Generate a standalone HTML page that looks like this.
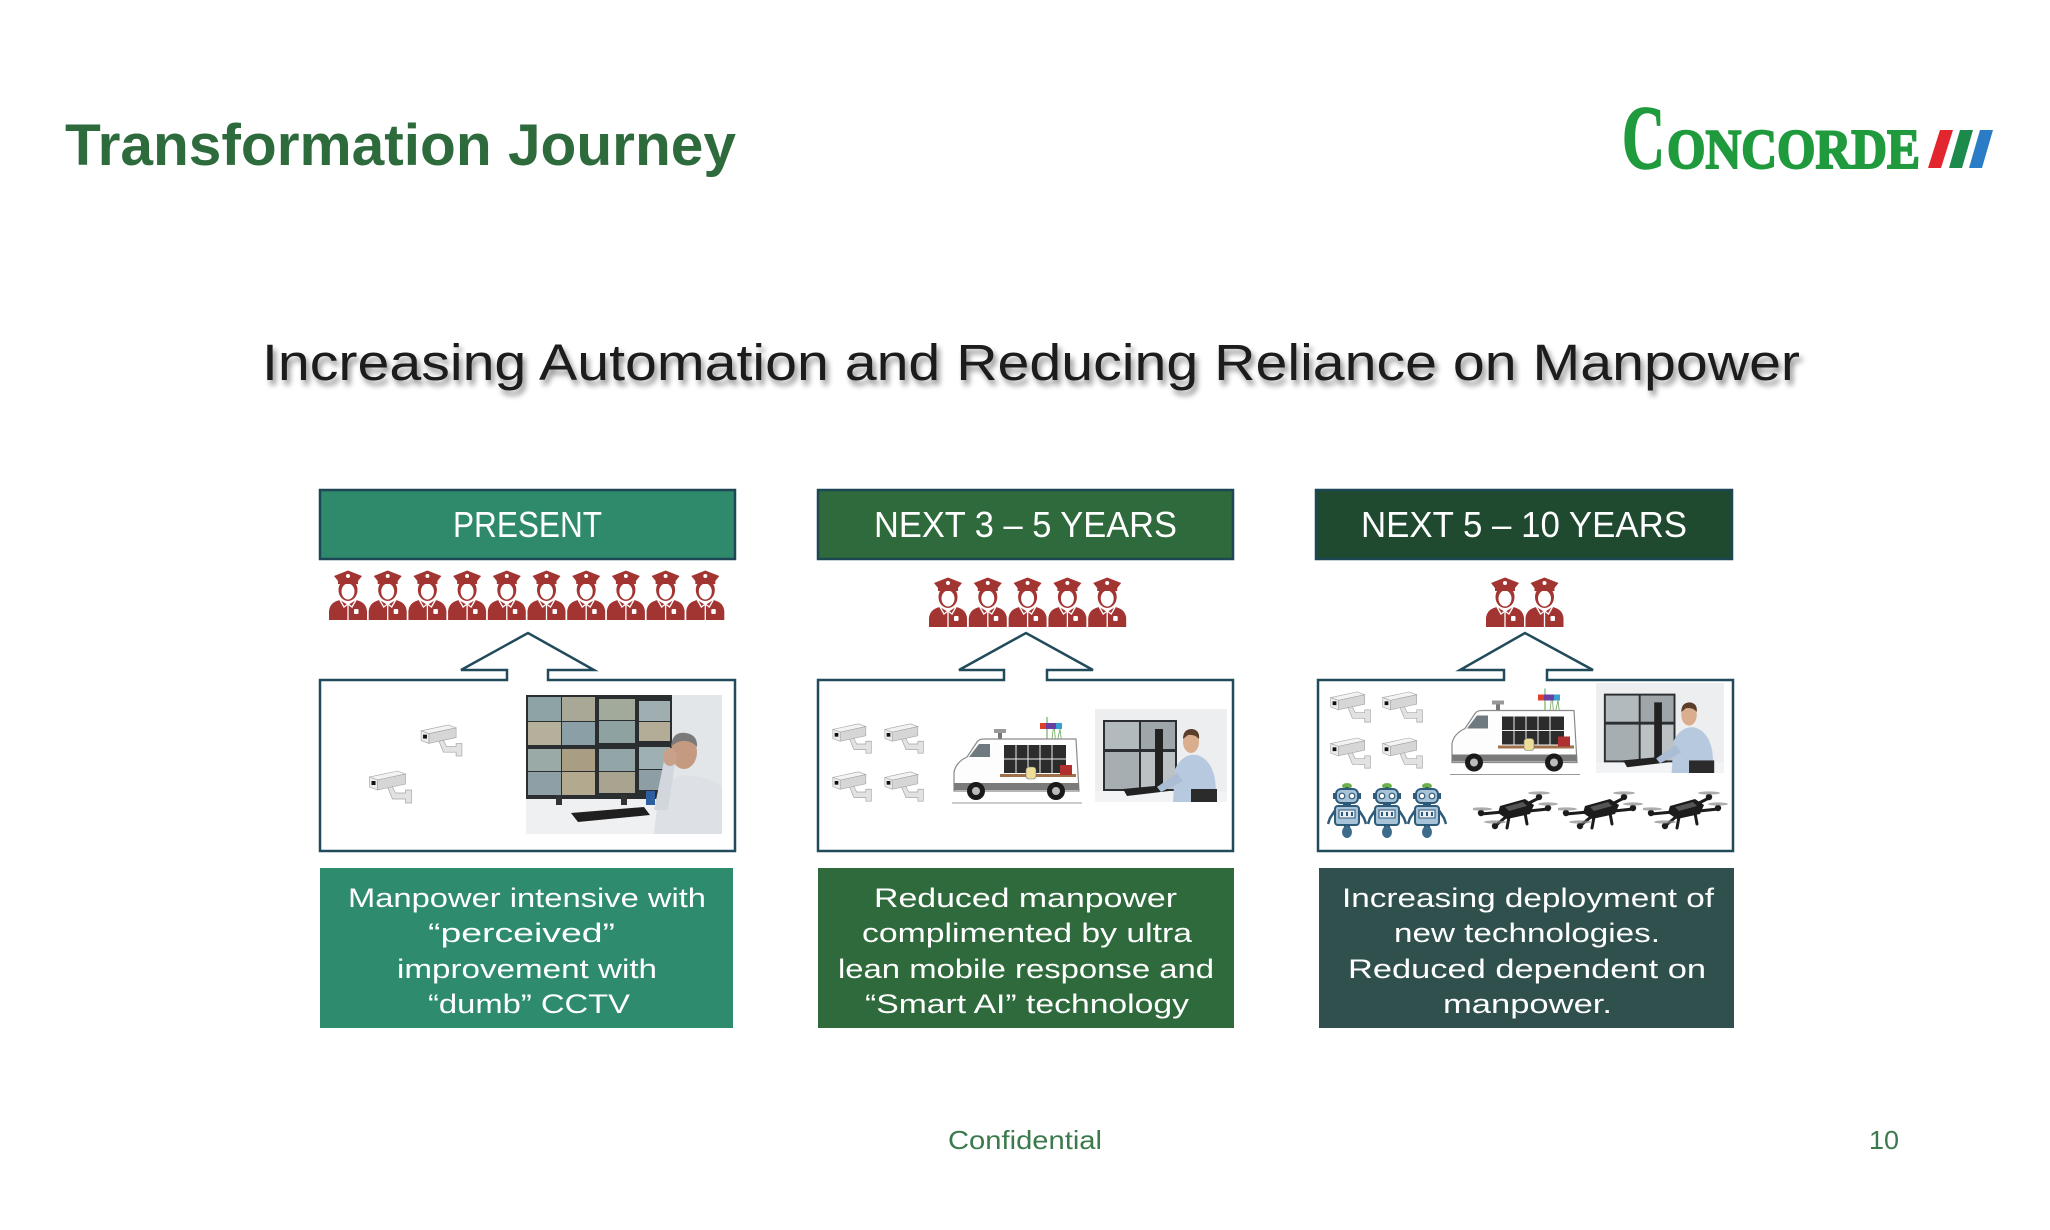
<!DOCTYPE html>
<html><head><meta charset="utf-8"><style>
html,body{margin:0;padding:0;background:#fff;}
svg{display:block;}
text{font-family:"Liberation Sans",sans-serif;}
</style></head><body>
<svg width="2050" height="1230" viewBox="0 0 2050 1230" xmlns="http://www.w3.org/2000/svg">
<defs>
  <filter id="sh" x="-5%" y="-50%" width="110%" height="200%">
    <feGaussianBlur in="SourceAlpha" stdDeviation="3"/>
    <feOffset dx="3" dy="5" result="o"/>
    <feComponentTransfer><feFuncA type="linear" slope="0.45"/></feComponentTransfer>
    <feMerge><feMergeNode/><feMergeNode in="SourceGraphic"/></feMerge>
  </filter>
  <symbol id="g" viewBox="0 0 40 50">
    <path d="M1,50 L1,41 Q2,32 12,30 L20,35 L28,30 Q38,32 39,41 L39,50 Z" fill="#a23532"/>
    <ellipse cx="20" cy="20" rx="9.5" ry="11" fill="#a23532"/>
    <ellipse cx="20" cy="21.5" rx="6.5" ry="8" fill="#fff"/>
    <path d="M6,6 L20,0.5 L34,6 L30,11 L10,11 Z" fill="#a23532"/>
    <rect x="10" y="10.5" width="20" height="3.5" fill="#a23532"/>
    <circle cx="20" cy="6" r="2" fill="#fff"/>
    <path d="M12,30 L16,37 L20,34 L24,37 L28,30" fill="none" stroke="#fff" stroke-width="1.3"/>
    <line x1="20" y1="35" x2="20" y2="50" stroke="#fff" stroke-width="1.3"/>
    <rect x="26" y="39" width="4.5" height="5" rx="1" fill="#fff"/>
  </symbol>
  <symbol id="cam" viewBox="0 0 48 36">
    <path d="M24,16 L28,24 L38,24 L38,21 L44,21 L44,34 L38,34 L38,30 L25,30 L20,18 Z" fill="#e2e2e2" stroke="#a5a5a5" stroke-width="0.7"/>
    <polygon points="2,8 30,2 38,5 10,11" fill="#f3f3f3" stroke="#a0a0a0" stroke-width="0.6"/>
    <polygon points="10,11 38,5 38,15 10,21" fill="#d6d6d6" stroke="#a0a0a0" stroke-width="0.6"/>
    <polygon points="2,8 10,11 10,21 2,18" fill="#ececec" stroke="#a0a0a0" stroke-width="0.6"/>
    <rect x="4" y="12" width="4" height="4" fill="#111"/>
  </symbol>
  <symbol id="van" viewBox="0 0 130 88">
    <line x1="0" y1="86" x2="130" y2="86" stroke="#999" stroke-width="1"/>
    <line x1="95" y1="22" x2="95" y2="0" stroke="#5aa04a" stroke-width="1"/>
    <polyline points="100,22 102,6 104,30 108,12 110,28" fill="none" stroke="#6aa85a" stroke-width="0.8"/>
    <rect x="88" y="6" width="22" height="6" fill="#6b3fa0"/>
    <rect x="88" y="6" width="6" height="6" fill="#e0402a"/>
    <rect x="104" y="6" width="6" height="6" fill="#38a0d0"/>
    <rect x="42" y="12" width="12" height="4" fill="#999"/>
    <rect x="46" y="16" width="4" height="6" fill="#777"/>
    <path d="M2,74 L2,55 Q4,45 15,40 L25,25 Q27,22 32,22 L124,22 L127,74 Z" fill="#fdfdfd" stroke="#8a8a8a" stroke-width="1.2"/>
    <path d="M17,40 L27,27 L38,27 L38,40 Z" fill="#6f7a80"/>
    <rect x="52" y="28" width="62" height="28" fill="#2c2c2c"/>
    <g stroke="#eee" stroke-width="1"><line x1="64" y1="28" x2="64" y2="56"/><line x1="76" y1="28" x2="76" y2="56"/><line x1="88" y1="28" x2="88" y2="56"/><line x1="100" y1="28" x2="100" y2="56"/><line x1="52" y1="42" x2="114" y2="42"/></g>
    <rect x="48" y="57" width="76" height="3" fill="#a0704a"/>
    <rect x="74" y="50" width="10" height="12" rx="3" fill="#eedd99" stroke="#777" stroke-width="0.6"/>
    <rect x="108" y="48" width="12" height="10" fill="#b03030"/>
    <rect x="2" y="66" width="125" height="7" fill="#7a7a7a"/>
    <circle cx="24" cy="74" r="9" fill="#1a1a1a"/><circle cx="24" cy="74" r="4" fill="#bbb"/>
    <circle cx="104" cy="74" r="9" fill="#1a1a1a"/><circle cx="104" cy="74" r="4" fill="#bbb"/>
  </symbol>
  <symbol id="ph2" viewBox="0 0 132 93">
    <rect width="132" height="93" fill="#eceef0"/>
    <rect x="8" y="11" width="74" height="72" fill="#2b2f33"/>
    <rect x="10" y="13" width="34" height="27" fill="#b3babd"/>
    <rect x="46" y="13" width="34" height="27" fill="#9ea6a9"/>
    <rect x="10" y="43" width="34" height="37" fill="#a7aeb1"/>
    <rect x="46" y="43" width="34" height="37" fill="#bcc2c4"/>
    <rect x="60" y="20" width="8" height="60" fill="#222"/>
    <rect x="0" y="82" width="132" height="11" fill="#f2f3f4"/>
    <polygon points="28,80 70,76 74,82 32,87" fill="#222"/>
    <path d="M78,93 L80,60 Q88,44 102,46 Q116,50 120,70 L122,93 Z" fill="#b7c9de"/>
    <polygon points="82,64 62,78 66,83 88,72" fill="#aabdd4"/>
    <rect x="96" y="80" width="26" height="13" fill="#2b2b2b"/>
    <ellipse cx="96" cy="33" rx="8" ry="11" fill="#d9ad8e"/>
    <path d="M88,30 Q88,20 97,20 Q105,21 104,30 Q100,25 93,26 Z" fill="#5a3d2b"/>
  </symbol>
  <symbol id="rob" viewBox="0 0 40 56">
    <ellipse cx="20" cy="4" rx="5" ry="3" fill="#6cb04a"/>
    <rect x="18.5" y="5" width="3" height="3" fill="#2f5b7a"/>
    <rect x="9" y="7" width="22" height="14" rx="5" fill="#a8c3d8" stroke="#2f5b7a" stroke-width="2"/>
    <circle cx="15" cy="14" r="2.8" fill="#fff" stroke="#2f5b7a" stroke-width="1.2"/>
    <circle cx="25" cy="14" r="2.8" fill="#fff" stroke="#2f5b7a" stroke-width="1.2"/>
    <rect x="6" y="11" width="3" height="6" fill="#2f5b7a"/><rect x="31" y="11" width="3" height="6" fill="#2f5b7a"/>
    <rect x="16" y="21" width="8" height="3" fill="#2f5b7a"/>
    <path d="M9,27 L3,36 L1,42 M31,27 L37,36 L39,42" fill="none" stroke="#2f5b7a" stroke-width="2.5"/>
    <rect x="8" y="24" width="24" height="19" rx="3" fill="#a8c3d8" stroke="#2f5b7a" stroke-width="2"/>
    <rect x="12" y="28" width="16" height="8" fill="#e8eef3" stroke="#2f5b7a" stroke-width="1"/>
    <g fill="#2f5b7a"><rect x="14" y="30" width="2" height="4"/><rect x="19" y="30" width="2" height="4"/><rect x="24" y="30" width="2" height="4"/></g>
    <rect x="17" y="43" width="6" height="3" fill="#2f5b7a"/>
    <ellipse cx="20" cy="50" rx="5" ry="6" fill="#3d6b8a"/>
  </symbol>
  <symbol id="dr" viewBox="0 0 85 44">
    <g stroke="#1c1c1c" stroke-width="3" stroke-linecap="round">
      <line x1="30" y1="24" x2="8" y2="26"/><line x1="34" y1="28" x2="22" y2="38"/>
      <line x1="54" y1="16" x2="66" y2="10"/><line x1="56" y1="23" x2="75" y2="21"/>
      <line x1="36" y1="29" x2="34" y2="40"/><line x1="52" y1="25" x2="54" y2="36"/>
    </g>
    <path d="M27,18 L52,11 L61,17 L57,26 L34,31 L25,25 Z" fill="#1c1c1c"/>
    <path d="M32,19 L50,14 L54,18 L36,23 Z" fill="#555"/>
    <g fill="#1c1c1c"><circle cx="8" cy="25" r="3.2"/><circle cx="22" cy="38" r="3.2"/><circle cx="66" cy="9" r="3.2"/><circle cx="75" cy="20" r="3.2"/></g>
    <g fill="#8a8a8a" opacity="0.7"><ellipse cx="8" cy="21" rx="11" ry="1.6"/><ellipse cx="22" cy="34" rx="11" ry="1.6"/><ellipse cx="66" cy="5" rx="11" ry="1.6"/><ellipse cx="75" cy="16" rx="10" ry="1.6"/></g>
  </symbol>
</defs>

<rect width="2050" height="1230" fill="#fff"/>

<!-- Title -->
<text x="65" y="165" font-size="58" font-weight="bold" fill="#2e6b3c" textLength="671" lengthAdjust="spacingAndGlyphs">Transformation Journey</text>

<!-- Logo -->
<text x="1622" y="168" font-size="91" font-weight="bold" fill="#1f9a3d" stroke="#1f9a3d" stroke-width="1.5" textLength="43" lengthAdjust="spacingAndGlyphs" style="font-family:'Liberation Serif',serif">C</text>
<text x="1667" y="168" font-size="56" font-weight="bold" fill="#1f9a3d" stroke="#1f9a3d" stroke-width="2" textLength="253" lengthAdjust="spacingAndGlyphs" style="font-family:'Liberation Serif',serif">ONCORDE</text>
<polygon points="1928,168 1941,168 1953,130 1940,130" fill="#e3262d"/>
<polygon points="1949,168 1962,168 1973,130 1960,130" fill="#1b8a4b"/>
<polygon points="1969,168 1982,168 1993,130 1980,130" fill="#2b7cc7"/>

<!-- Subtitle -->
<text x="262" y="380" font-size="51" fill="#1a1a1a" textLength="1538" lengthAdjust="spacingAndGlyphs" filter="url(#sh)">Increasing Automation and Reducing Reliance on Manpower</text>

<!-- Headers -->
<rect x="320" y="490" width="415" height="69" fill="#2f8a6c" stroke="#1e4755" stroke-width="2.5"/>
<rect x="818" y="490" width="415" height="69" fill="#2e6a3c" stroke="#1e4755" stroke-width="2.5"/>
<rect x="1316" y="490" width="416" height="69" fill="#1f4a30" stroke="#1e4755" stroke-width="2.5"/>
<text x="453" y="537" font-size="36" fill="#fff" textLength="149" lengthAdjust="spacingAndGlyphs">PRESENT</text>
<text x="874" y="537" font-size="36" fill="#fff" textLength="303" lengthAdjust="spacingAndGlyphs">NEXT 3 – 5 YEARS</text>
<text x="1361" y="537" font-size="36" fill="#fff" textLength="326" lengthAdjust="spacingAndGlyphs">NEXT 5 – 10 YEARS</text>

<!-- Guards -->
<use href="#g" x="328" y="570" width="40" height="50"/>
<use href="#g" x="367.7" y="570" width="40" height="50"/>
<use href="#g" x="407.4" y="570" width="40" height="50"/>
<use href="#g" x="447.1" y="570" width="40" height="50"/>
<use href="#g" x="486.8" y="570" width="40" height="50"/>
<use href="#g" x="526.5" y="570" width="40" height="50"/>
<use href="#g" x="566.2" y="570" width="40" height="50"/>
<use href="#g" x="605.9" y="570" width="40" height="50"/>
<use href="#g" x="645.6" y="570" width="40" height="50"/>
<use href="#g" x="685.3" y="570" width="40" height="50"/>

<use href="#g" x="928" y="577" width="40" height="50"/>
<use href="#g" x="967.8" y="577" width="40" height="50"/>
<use href="#g" x="1007.6" y="577" width="40" height="50"/>
<use href="#g" x="1047.4" y="577" width="40" height="50"/>
<use href="#g" x="1087.2" y="577" width="40" height="50"/>

<use href="#g" x="1485" y="577" width="40" height="50"/>
<use href="#g" x="1524.5" y="577" width="40" height="50"/>

<!-- Boxes with arrows -->
<path d="M507,680 L320,680 L320,851 L735,851 L735,680 L548,680 L548,670 L594,670 L528,633 L461,670 L507,670 Z" fill="#fff" stroke="#214b5a" stroke-width="2.5" stroke-linejoin="miter"/>
<path d="M1004,680 L818,680 L818,851 L1233,851 L1233,680 L1047,680 L1047,670 L1093,670 L1026,633 L959,670 L1004,670 Z" fill="#fff" stroke="#214b5a" stroke-width="2.5"/>
<path d="M1504,680 L1318,680 L1318,851 L1733,851 L1733,680 L1547,680 L1547,670 L1593,670 L1525,633 L1460,670 L1504,670 Z" fill="#fff" stroke="#214b5a" stroke-width="2.5"/>

<!-- Column 1 content -->
<use href="#cam" x="418" y="723" width="49" height="35"/>
<use href="#cam" x="367" y="769" width="49" height="36"/>
<g transform="translate(526,695)">
  <rect width="196" height="139" fill="#e3e6e9"/>
  <rect x="0" y="0" width="146" height="104" fill="#2a2e31"/>
  <rect x="2" y="2" width="33" height="24" fill="#8ea3a5"/>
  <rect x="36" y="2" width="33" height="24" fill="#a9a796"/>
  <rect x="2" y="27" width="33" height="23" fill="#b5b09c"/>
  <rect x="36" y="27" width="33" height="23" fill="#8a9fa6"/>
  <rect x="73" y="4" width="36" height="21" fill="#a2aa9c"/>
  <rect x="73" y="26" width="36" height="22" fill="#8fa2a2"/>
  <rect x="113" y="6" width="31" height="20" fill="#9faeb0"/>
  <rect x="113" y="27" width="31" height="19" fill="#b3ad98"/>
  <rect x="2" y="54" width="33" height="22" fill="#9aaaa6"/>
  <rect x="36" y="54" width="33" height="22" fill="#a99e84"/>
  <rect x="2" y="77" width="33" height="23" fill="#8ea0a6"/>
  <rect x="36" y="77" width="33" height="23" fill="#b2a98f"/>
  <rect x="73" y="54" width="36" height="22" fill="#92a5a7"/>
  <rect x="73" y="77" width="36" height="21" fill="#a8a48f"/>
  <rect x="113" y="52" width="31" height="22" fill="#9fb0b2"/>
  <rect x="113" y="75" width="31" height="20" fill="#8d9ea4"/>
  <rect x="0" y="104" width="196" height="35" fill="#eff0f1"/>
  <rect x="30" y="100" width="6" height="10" fill="#333"/>
  <rect x="95" y="100" width="6" height="10" fill="#333"/>
  <polygon points="45,118 118,112 124,120 52,127" fill="#1f1f1f"/>
  <rect x="120" y="96" width="9" height="14" fill="#2d5fa0"/>
  <path d="M128,139 L132,104 Q138,82 160,80 Q185,82 196,92 L196,139 Z" fill="#dde1e6"/>
  <polygon points="128,115 138,66 149,68 142,115" fill="#d2d7de"/>
  <ellipse cx="158" cy="57" rx="13" ry="17" fill="#c49a80"/>
  <path d="M145,52 Q146,36 160,38 Q172,40 171,52 Q165,45 156,46 Q149,47 145,52 Z" fill="#7a7a7a"/>
  <ellipse cx="144" cy="62" rx="7" ry="9" fill="#c9a089"/>
</g>

<!-- Column 2 content -->
<use href="#cam" x="830" y="722" width="46" height="33"/>
<use href="#cam" x="882" y="722" width="46" height="33"/>
<use href="#cam" x="830" y="770" width="46" height="33"/>
<use href="#cam" x="882" y="770" width="46" height="33"/>
<use href="#van" x="952" y="717" width="130" height="88"/>
<use href="#ph2" x="1095" y="709" width="132" height="93"/>

<!-- Column 3 content -->
<use href="#cam" x="1328" y="690" width="47" height="34"/>
<use href="#cam" x="1380" y="690" width="47" height="34"/>
<use href="#cam" x="1328" y="736" width="47" height="34"/>
<use href="#cam" x="1380" y="736" width="47" height="34"/>
<use href="#van" x="1450" y="688" width="130" height="89"/>
<use href="#ph2" x="1595" y="683" width="130" height="90"/>
<use href="#rob" x="1327" y="782" width="40" height="56"/>
<use href="#rob" x="1367" y="782" width="40" height="56"/>
<use href="#rob" x="1407" y="782" width="40" height="56"/>
<use href="#dr" x="1473" y="788" width="85" height="44"/>
<use href="#dr" x="1558" y="788" width="85" height="44"/>
<use href="#dr" x="1643" y="788" width="85" height="44"/>

<!-- Text boxes -->
<rect x="320" y="868" width="413" height="160" fill="#2e8b6e"/>
<rect x="818" y="868" width="416" height="160" fill="#2e6a3c"/>
<rect x="1319" y="868" width="415" height="160" fill="#2f504c"/>

<g font-size="27" fill="#fff">
  <text x="348" y="907" textLength="358" lengthAdjust="spacingAndGlyphs">Manpower intensive with</text>
  <text x="428" y="942" textLength="187" lengthAdjust="spacingAndGlyphs">“perceived”</text>
  <text x="397" y="978" textLength="260" lengthAdjust="spacingAndGlyphs">improvement with</text>
  <text x="428" y="1013" textLength="202" lengthAdjust="spacingAndGlyphs">“dumb” CCTV</text>

  <text x="874" y="907" textLength="303" lengthAdjust="spacingAndGlyphs">Reduced manpower</text>
  <text x="862" y="942" textLength="330" lengthAdjust="spacingAndGlyphs">complimented by ultra</text>
  <text x="838" y="978" textLength="376" lengthAdjust="spacingAndGlyphs">lean mobile response and</text>
  <text x="865" y="1013" textLength="324" lengthAdjust="spacingAndGlyphs">“Smart AI” technology</text>

  <text x="1342" y="907" textLength="372" lengthAdjust="spacingAndGlyphs">Increasing deployment of</text>
  <text x="1394" y="942" textLength="266" lengthAdjust="spacingAndGlyphs">new technologies.</text>
  <text x="1348" y="978" textLength="358" lengthAdjust="spacingAndGlyphs">Reduced dependent on</text>
  <text x="1443" y="1013" textLength="169" lengthAdjust="spacingAndGlyphs">manpower.</text>
</g>

<!-- Footer -->
<text x="948" y="1149" font-size="26" fill="#3b7a4c" textLength="154" lengthAdjust="spacingAndGlyphs">Confidential</text>
<text x="1869" y="1149" font-size="26" fill="#3b7a4c" textLength="30" lengthAdjust="spacingAndGlyphs">10</text>
</svg>
</body></html>
